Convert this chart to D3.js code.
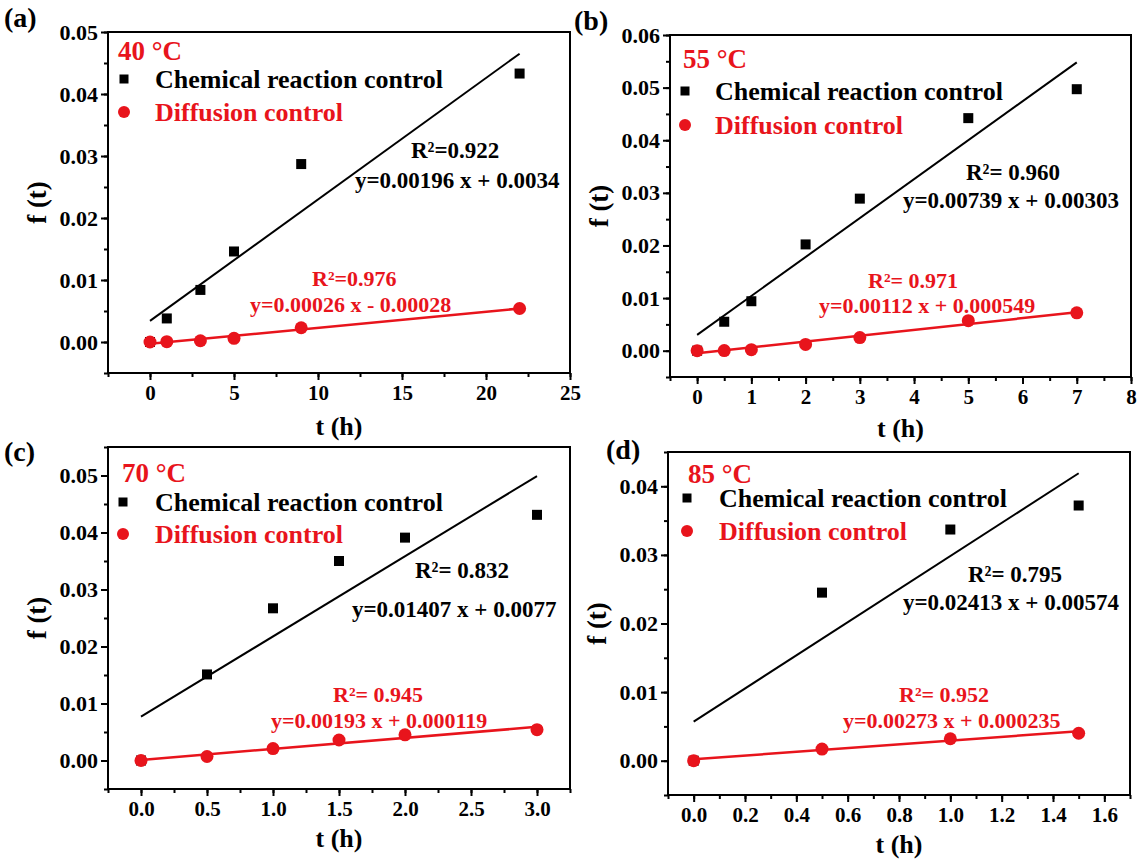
<!DOCTYPE html>
<html>
<head>
<meta charset="utf-8">
<script src="https://cdn.jsdelivr.net/npm/d3@7"></script>
<style>
  body { margin: 0; background: #fff; }
  text { font-family: "Liberation Serif", "Times New Roman", serif; font-weight: bold; }
</style>
</head>
<body>
<div id="chart"></div>
<script>
// data

var panelLabels = ["(a)", "(b)", "(c)", "(d)"];
var temperatures = ["40 °C", "55 °C", "70 °C", "85 °C"];
var legendNames = ["Chemical reaction control", "Diffusion control"];

var timeA = [0, 1, 3, 5, 9, 22];
var chemA = [0, 0.0038, 0.0084, 0.0146, 0.0287, 0.0433];
var diffA = [0, 0.00005, 0.0002, 0.0006, 0.0023, 0.0054];

var timeB = [0, 0.5, 1, 2, 3, 5, 7];
var chemB = [0, 0.0055, 0.0094, 0.0202, 0.0289, 0.0442, 0.0497];
var diffB = [0, 0.00002, 0.0002, 0.0012, 0.0025, 0.0057, 0.0072];

var timeC = [0, 0.5, 1, 1.5, 2, 3];
var chemC = [0, 0.0151, 0.0267, 0.0350, 0.0391, 0.0431];
var diffC = [0, 0.0007, 0.0021, 0.0036, 0.0045, 0.0054];

var timeD = [0, 0.5, 1, 1.5];
var chemD = [0, 0.0245, 0.0337, 0.0372];
var diffD = [0, 0.0017, 0.0032, 0.0040];

// fitted lines, value at t = 0 and at the last t
var chemFitEnds = [[0.0034, 0.0465], [0.0030, 0.0548], [0.0077, 0.0499], [0.0057, 0.0419]];
var diffFitEnds = [[-0.0003, 0.0054], [-0.0005, 0.0073], [0.0001, 0.0059], [0.0002, 0.0043]];

var chemR2 = ["R²=0.922", "R²= 0.960", "R²= 0.832", "R²= 0.795"];
var chemEq = ["y=0.00196 x + 0.0034", "y=0.00739 x + 0.00303", "y=0.01407 x + 0.0077", "y=0.02413 x + 0.00574"];
var diffR2 = ["R²=0.976", "R²= 0.971", "R²= 0.945", "R²= 0.952"];
var diffEq = ["y=0.00026 x - 0.00028", "y=0.00112 x + 0.000549", "y=0.00193 x + 0.000119", "y=0.00273 x + 0.000235"];

// axes
var xTicksA = [0, 5, 10, 15, 20, 25];
var xTicksB = [0, 1, 2, 3, 4, 5, 6, 7, 8];
var xTicksC = [0, 0.5, 1, 1.5, 2, 2.5, 3];
var xTicksD = [0, 0.2, 0.4, 0.6, 0.8, 1.0, 1.2, 1.4, 1.6];
var yTicksA = [0, 0.01, 0.02, 0.03, 0.04, 0.05];
var yTicksB = [0, 0.01, 0.02, 0.03, 0.04, 0.05, 0.06];
var yTicksC = [0, 0.01, 0.02, 0.03, 0.04, 0.05];
var yTicksD = [0, 0.01, 0.02, 0.03, 0.04];

var panels = [
  { t: timeA, chem: chemA, diff: diffA, xTicks: xTicksA, yTicks: yTicksA, xDomain: [-2.5, 25], yDomain: [-0.005, 0.05], xMinor: 2.5, xFmt: d3.format("d") },
  { t: timeB, chem: chemB, diff: diffB, xTicks: xTicksB, yTicks: yTicksB, xDomain: [-0.5, 8], yDomain: [-0.005, 0.06], xMinor: 0.5, xFmt: d3.format("d") },
  { t: timeC, chem: chemC, diff: diffC, xTicks: xTicksC, yTicks: yTicksC, xDomain: [-0.25, 3.25], yDomain: [-0.005, 0.055], xMinor: 0.25, xFmt: d3.format(".1f") },
  { t: timeD, chem: chemD, diff: diffD, xTicks: xTicksD, yTicks: yTicksD, xDomain: [-0.1, 1.7], yDomain: [-0.005, 0.045], xMinor: 0.1, xFmt: d3.format(".1f") }
];

// frame of each panel on the page
var layout = [
  { x: 108, y: 32, w: 462, h: 341 },
  { x: 670, y: 35, w: 461, h: 342 },
  { x: 108, y: 447, w: 462, h: 342 },
  { x: 668, y: 452, w: 462, h: 343 }
];

// text placement inside each frame (pixels from the frame's top-left)
var notes = [
  { temp: [10, 28], leg: [16, 47, 80], legText: 47, r2: [303, 126], eq: [247, 156], dr2: [204, 254], deq: [142, 280], title: 62 },
  { temp: [13, 33], leg: [15, 56, 90], legText: 45, r2: [296, 145], eq: [233, 173], dr2: [198, 253], deq: [149, 278], title: 60 },
  { temp: [14, 35], leg: [15, 55, 87], legText: 47, r2: [307, 131], eq: [244, 170], dr2: [225, 255], deq: [163, 281], title: 58 },
  { temp: [20, 31], leg: [19, 46, 79], legText: 51, r2: [300, 130], eq: [235, 158], dr2: [231, 250], deq: [175, 276], title: 58 }
];

var red = "#e8141c";
var svgWidth = 1138;
var svgHeight = 863;

var svg = d3.select("#chart")
  .append("svg")
  .attr("width", svgWidth)
  .attr("height", svgHeight);

function styleAxis(sel, size) {
  sel.select(".domain").remove();
  sel.attr("font-family", "Liberation Serif, Times New Roman, serif")
    .attr("font-weight", "bold")
    .attr("font-size", size);
  sel.selectAll("line").attr("stroke-width", 2);
}

panels.forEach(function(p, i) {
  var L = layout[i];
  var N = notes[i];
  var g = svg.append("g").attr("transform", `translate(${L.x}, ${L.y})`);

  var x = d3.scaleLinear().domain(p.xDomain).range([0, L.w]);
  var y = d3.scaleLinear().domain(p.yDomain).range([L.h, 0]);

  // minor ticks
  var xMinor = d3.range(p.xDomain[0], p.xDomain[1] + 1e-9, p.xMinor);
  var yMinor = d3.range(p.yDomain[0], p.yDomain[1] + 1e-9, 0.005);

  g.append("g")
    .attr("transform", `translate(0, ${L.h})`)
    .call(d3.axisBottom(x).tickValues(xMinor).tickSize(4).tickFormat(""))
    .call(styleAxis, 21);
  g.append("g")
    .call(d3.axisLeft(y).tickValues(yMinor).tickSize(4).tickFormat(""))
    .call(styleAxis, 21);

  // major ticks + labels
  g.append("g")
    .attr("transform", `translate(0, ${L.h})`)
    .call(d3.axisBottom(x).tickValues(p.xTicks).tickSize(7).tickPadding(5).tickFormat(p.xFmt))
    .call(styleAxis, 21);
  g.append("g")
    .call(d3.axisLeft(y).tickValues(p.yTicks).tickSize(7).tickPadding(3).tickFormat(d3.format(".2f")))
    .call(styleAxis, 22);

  // frame
  g.append("rect")
    .attr("width", L.w)
    .attr("height", L.h)
    .attr("fill", "none")
    .attr("stroke", "#000")
    .attr("stroke-width", 2);

  var tLast = p.t[p.t.length - 1];

  // chemical reaction control
  g.append("line")
    .attr("x1", x(0)).attr("y1", y(chemFitEnds[i][0]))
    .attr("x2", x(tLast)).attr("y2", y(chemFitEnds[i][1]))
    .attr("stroke", "#000")
    .attr("stroke-width", 2);

  g.selectAll(".sq")
    .data(p.t)
    .enter()
    .append("rect")
    .attr("x", d => x(d) - 5)
    .attr("y", (d, j) => y(p.chem[j]) - 5)
    .attr("width", 10)
    .attr("height", 10)
    .attr("fill", "#000");

  // diffusion control
  g.append("line")
    .attr("x1", x(0)).attr("y1", y(diffFitEnds[i][0]))
    .attr("x2", x(tLast)).attr("y2", y(diffFitEnds[i][1]))
    .attr("stroke", red)
    .attr("stroke-width", 2.5);

  g.selectAll(".dot")
    .data(p.t)
    .enter()
    .append("circle")
    .attr("cx", d => x(d))
    .attr("cy", (d, j) => y(p.diff[j]))
    .attr("r", 6.5)
    .attr("fill", red);

  // temperature + legend
  g.append("text")
    .attr("x", N.temp[0]).attr("y", N.temp[1])
    .style("font-size", "27px")
    .style("fill", red)
    .text(temperatures[i]);

  g.append("rect")
    .attr("x", N.leg[0] - 4.5).attr("y", N.leg[1] - 4.5)
    .attr("width", 9).attr("height", 9)
    .attr("fill", "#000");
  g.append("text")
    .attr("x", N.legText).attr("y", N.leg[1] + 9)
    .style("font-size", "26px")
    .text(legendNames[0]);

  g.append("circle")
    .attr("cx", N.leg[0]).attr("cy", N.leg[2])
    .attr("r", 6)
    .attr("fill", red);
  g.append("text")
    .attr("x", N.legText).attr("y", N.leg[2] + 9)
    .style("font-size", "26px")
    .style("fill", red)
    .text(legendNames[1]);

  // fit annotations
  g.append("text").attr("x", N.r2[0]).attr("y", N.r2[1]).style("font-size", "23px").text(chemR2[i]);
  g.append("text").attr("x", N.eq[0]).attr("y", N.eq[1]).style("font-size", "23px").text(chemEq[i]);
  g.append("text").attr("x", N.dr2[0]).attr("y", N.dr2[1]).style("font-size", "22px").style("fill", red).text(diffR2[i]);
  g.append("text").attr("x", N.deq[0]).attr("y", N.deq[1]).style("font-size", "22px").style("fill", red).text(diffEq[i]);

  // axis titles
  g.append("text")
    .attr("transform", `translate(${L.w / 2}, ${L.h + N.title})`)
    .style("text-anchor", "middle")
    .style("font-size", "26px")
    .text("t (h)");

  g.append("text")
    .attr("transform", `translate(-62, ${L.h / 2}) rotate(-90)`)
    .style("text-anchor", "middle")
    .style("font-size", "27px")
    .text("f (t)");
});

// panel letters
var letterPos = [[4, 27], [574, 30], [4, 461], [606, 459]];
svg.selectAll(".letter")
  .data(panelLabels)
  .enter()
  .append("text")
  .attr("x", (d, i) => letterPos[i][0])
  .attr("y", (d, i) => letterPos[i][1])
  .style("font-size", "28px")
  .text(d => d);
</script>
</body>
</html>
